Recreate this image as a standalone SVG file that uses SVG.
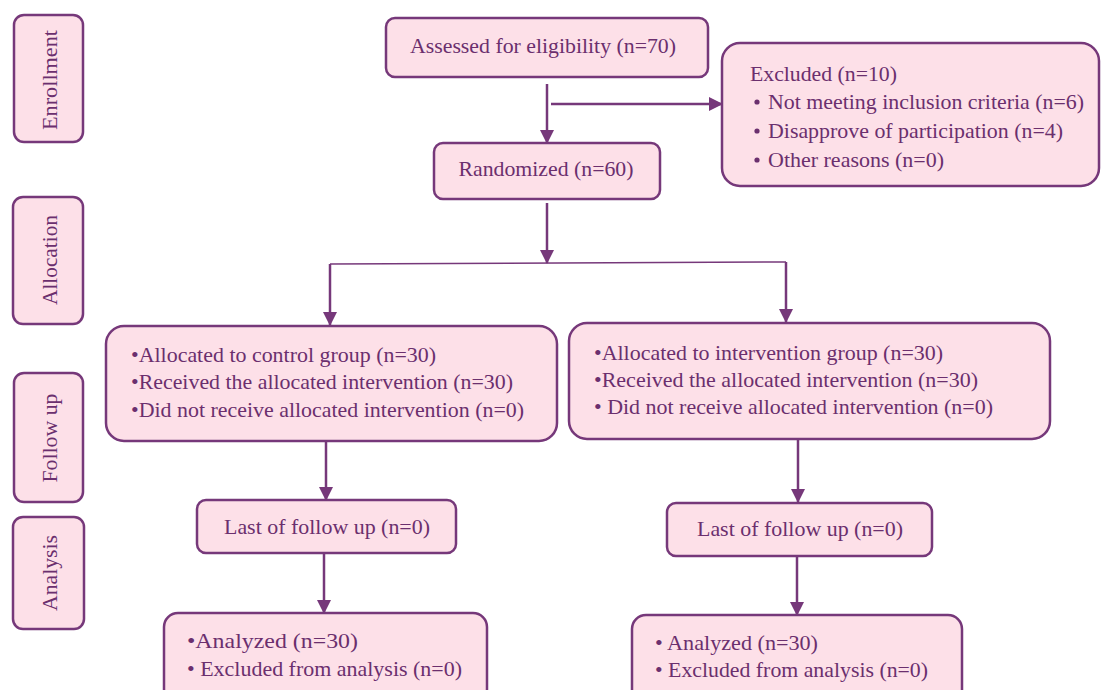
<svg xmlns="http://www.w3.org/2000/svg" width="1101" height="690" viewBox="0 0 1101 690">
<defs>
<style>
.box{fill:#fde0e8;stroke:#76387a;stroke-width:2.5}
.t{font-family:"Liberation Serif","Times New Roman",serif;font-size:21px;fill:#6b2f6e}
.s{font-size:22px}
.c{stroke:#76387a;stroke-width:2.5;fill:none}
.thin{stroke:#76387a;stroke-width:1.5;fill:none}
</style>
<marker id="ah" markerWidth="14" markerHeight="14" refX="13" refY="7" orient="auto" markerUnits="userSpaceOnUse">
<path d="M0,0 L14,7 L0,14 Z" fill="#76387a"/>
</marker>
</defs>
<rect width="1101" height="690" fill="#ffffff"/>

<g id="stage-enrollment">
<rect class="box" x="14" y="15" width="69" height="127" rx="10"/>
<text class="t s" transform="translate(57,80) rotate(-90)" text-anchor="middle" textLength="100" lengthAdjust="spacingAndGlyphs">Enrollment</text>
</g>
<g id="stage-allocation">
<rect class="box" x="13" y="197" width="70" height="127" rx="10"/>
<text class="t s" transform="translate(57,260) rotate(-90)" text-anchor="middle" textLength="90" lengthAdjust="spacingAndGlyphs">Allocation</text>
</g>
<g id="stage-followup">
<rect class="box" x="14" y="373" width="69" height="129" rx="10"/>
<text class="t s" transform="translate(57,438) rotate(-90)" text-anchor="middle" textLength="89" lengthAdjust="spacingAndGlyphs">Follow up</text>
</g>
<g id="stage-analysis">
<rect class="box" x="13" y="517" width="71" height="112" rx="10"/>
<text class="t s" transform="translate(57,573) rotate(-90)" text-anchor="middle" textLength="76" lengthAdjust="spacingAndGlyphs">Analysis</text>
</g>

<g id="assessed">
<rect class="box" x="386" y="18" width="322" height="59" rx="9"/>
<text class="t" x="543" y="53" text-anchor="middle" textLength="266" lengthAdjust="spacingAndGlyphs">Assessed for eligibility (n=70)</text>
</g>
<g id="excluded">
<rect class="box" x="722" y="43" width="377" height="143" rx="18"/>
<text class="t" x="750" y="81" textLength="147" lengthAdjust="spacingAndGlyphs">Excluded (n=10)</text>
<circle cx="757" cy="102" r="2.6" fill="#6b2f6e"/>
<text class="t" x="768" y="109" textLength="316" lengthAdjust="spacingAndGlyphs">Not meeting inclusion criteria (n=6)</text>
<circle cx="757" cy="131" r="2.6" fill="#6b2f6e"/>
<text class="t" x="768" y="138" textLength="295" lengthAdjust="spacingAndGlyphs">Disapprove of participation (n=4)</text>
<circle cx="757" cy="160" r="2.6" fill="#6b2f6e"/>
<text class="t" x="768" y="167" textLength="176" lengthAdjust="spacingAndGlyphs">Other reasons (n=0)</text>
</g>
<g id="randomized">
<rect class="box" x="434" y="143" width="226" height="56" rx="9"/>
<text class="t" x="546" y="176" text-anchor="middle" textLength="175" lengthAdjust="spacingAndGlyphs">Randomized (n=60)</text>
</g>

<g id="control">
<rect class="box" x="106" y="326" width="451" height="115" rx="18"/>
<text class="t" x="131" y="362" textLength="305" lengthAdjust="spacingAndGlyphs">•Allocated to control group (n=30)</text>
<text class="t" x="131" y="389" textLength="382" lengthAdjust="spacingAndGlyphs">•Received the allocated intervention (n=30)</text>
<text class="t" x="131" y="417" textLength="393" lengthAdjust="spacingAndGlyphs">•Did not receive allocated intervention (n=0)</text>
</g>
<g id="intervention">
<rect class="box" x="569" y="323" width="481" height="116" rx="18"/>
<text class="t" x="594" y="360" textLength="349" lengthAdjust="spacingAndGlyphs">•Allocated to intervention group (n=30)</text>
<text class="t" x="594" y="387" textLength="384" lengthAdjust="spacingAndGlyphs">•Received the allocated intervention (n=30)</text>
<text class="t" x="594" y="414" textLength="399" lengthAdjust="spacingAndGlyphs">• Did not receive allocated intervention (n=0)</text>
</g>

<g id="lost-control">
<rect class="box" x="197" y="500" width="259" height="53" rx="9"/>
<text class="t" x="327" y="534" text-anchor="middle" textLength="206" lengthAdjust="spacingAndGlyphs">Last of follow up (n=0)</text>
</g>
<g id="lost-intervention">
<rect class="box" x="667" y="503" width="265" height="53" rx="9"/>
<text class="t" x="800" y="536" text-anchor="middle" textLength="206" lengthAdjust="spacingAndGlyphs">Last of follow up (n=0)</text>
</g>

<g id="analyzed-control">
<rect class="box" x="164" y="613" width="323" height="90" rx="14"/>
<text class="t" x="187" y="648" textLength="171" lengthAdjust="spacingAndGlyphs">•Analyzed (n=30)</text>
<text class="t" x="187" y="676" textLength="275" lengthAdjust="spacingAndGlyphs">• Excluded from analysis (n=0)</text>
</g>
<g id="analyzed-intervention">
<rect class="box" x="632" y="615" width="330" height="90" rx="14"/>
<text class="t" x="655" y="650" textLength="163" lengthAdjust="spacingAndGlyphs">• Analyzed (n=30)</text>
<text class="t" x="655" y="677" textLength="273" lengthAdjust="spacingAndGlyphs">• Excluded from analysis (n=0)</text>
</g>

<g id="connectors">
<line class="c" x1="547" y1="84" x2="547" y2="143" marker-end="url(#ah)"/>
<line class="c" x1="551" y1="104" x2="722" y2="104" marker-end="url(#ah)"/>
<line class="c" x1="547" y1="203" x2="547" y2="263" marker-end="url(#ah)"/>
<polyline class="thin" points="330,264 786,262"/>
<line class="c" x1="330" y1="264" x2="330" y2="325" marker-end="url(#ah)"/>
<line class="c" x1="786" y1="262" x2="786" y2="322" marker-end="url(#ah)"/>
<line class="c" x1="326" y1="442" x2="326" y2="500" marker-end="url(#ah)"/>
<line class="c" x1="798" y1="440" x2="798" y2="502" marker-end="url(#ah)"/>
<line class="c" x1="324" y1="554" x2="324" y2="613" marker-end="url(#ah)"/>
<line class="c" x1="797" y1="557" x2="797" y2="615" marker-end="url(#ah)"/>
</g>
</svg>
